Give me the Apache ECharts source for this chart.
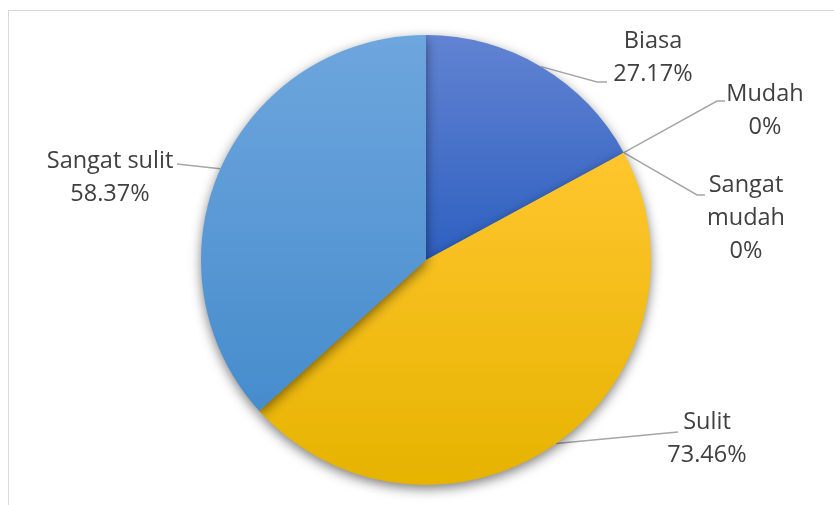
<!DOCTYPE html>
<html>
<head>
<meta charset="utf-8">
<script src="https://cdn.jsdelivr.net/npm/echarts@6/dist/echarts.min.js"></script>
<style>
    html, body { margin: 0; padding: 0; background: #ffffff; }
    #frame { position: absolute; left: 8px; top: 10px; width: 840px; height: 510px; border: 1px solid #d9d9d9; box-sizing: border-box; }
    #chart { position: absolute; left: 0; top: 0; width: 834px; height: 505px; }
</style>
</head>
<body>
<div id="frame"></div>
<div id="chart"></div>
<script>
// data
const categories = ['Biasa', 'Mudah', 'Sangat mudah', 'Sulit', 'Sangat sulit'];
const values = [27.17, 0, 0, 73.46, 58.37];

// gradient colours per slice (top -> bottom)
const colorTop = ['#6283d2', '#6283d2', '#6283d2', '#ffc62e', '#6ea6de'];
const colorBottom = ['#2d60c0', '#2d60c0', '#2d60c0', '#e6b300', '#468ccc'];

// label placement: centre x, top y, bend points of the leader line
const labelPos = [
    { x: 653, y: 25, bend: [[597, 82], [607, 82]] },
    { x: 765, y: 78, bend: [[717, 101], [725, 101]] },
    { x: 746, y: 169, bend: [[697, 195], [705, 195]] },
    { x: 707, y: 406, bend: [[678, 432]] },
    { x: 110, y: 145, bend: [[177, 164]] }
];

const chart = echarts.init(document.getElementById('chart'));

const seriesData = categories.map((name, i) => ({
    name: name,
    value: values[i],
    itemStyle: {
        color: new echarts.graphic.LinearGradient(0, 0, 0, 1, [
            { offset: 0, color: colorTop[i] },
            { offset: 1, color: colorBottom[i] }
        ])
    }
}));

const option = {
    animation: false,
    series: [
        {
            type: 'pie',
            center: [426, 260],
            radius: [0, 225],
            startAngle: 90,
            clockwise: true,
            minShowLabelAngle: 0,
            avoidLabelOverlap: false,
            itemStyle: {
                shadowBlur: 12,
                shadowOffsetY: 4,
                shadowColor: 'rgba(0,0,0,0.5)'
            },
            label: {
                show: true,
                position: 'outside',
                formatter: function (p) {
                    // the long name wraps onto two lines in the original
                    const name = p.name === 'Sangat mudah' ? p.name.replace(' ', '\n') : p.name;
                    return name + '\n' + p.value + '%';
                },
                fontFamily: 'Open Sans',
                fontSize: 23.5,
                lineHeight: 33,
                color: '#404040',
                align: 'center'
            },
            labelLine: {
                show: true,
                length: 20,
                length2: 10,
                lineStyle: { color: '#a6a6a6', width: 1.5 }
            },
            labelLayout: function (params) {
                const p = labelPos[params.dataIndex];
                const start = params.labelLinePoints ? params.labelLinePoints[0] : null;
                const res = {
                    x: p.x,
                    y: p.y,
                    align: 'center',
                    verticalAlign: 'top'
                };
                if (start) {
                    res.labelLinePoints = [start].concat(p.bend);
                }
                return res;
            },
            data: seriesData
        }
    ]
};

chart.setOption(option);
</script>
</body>
</html>
